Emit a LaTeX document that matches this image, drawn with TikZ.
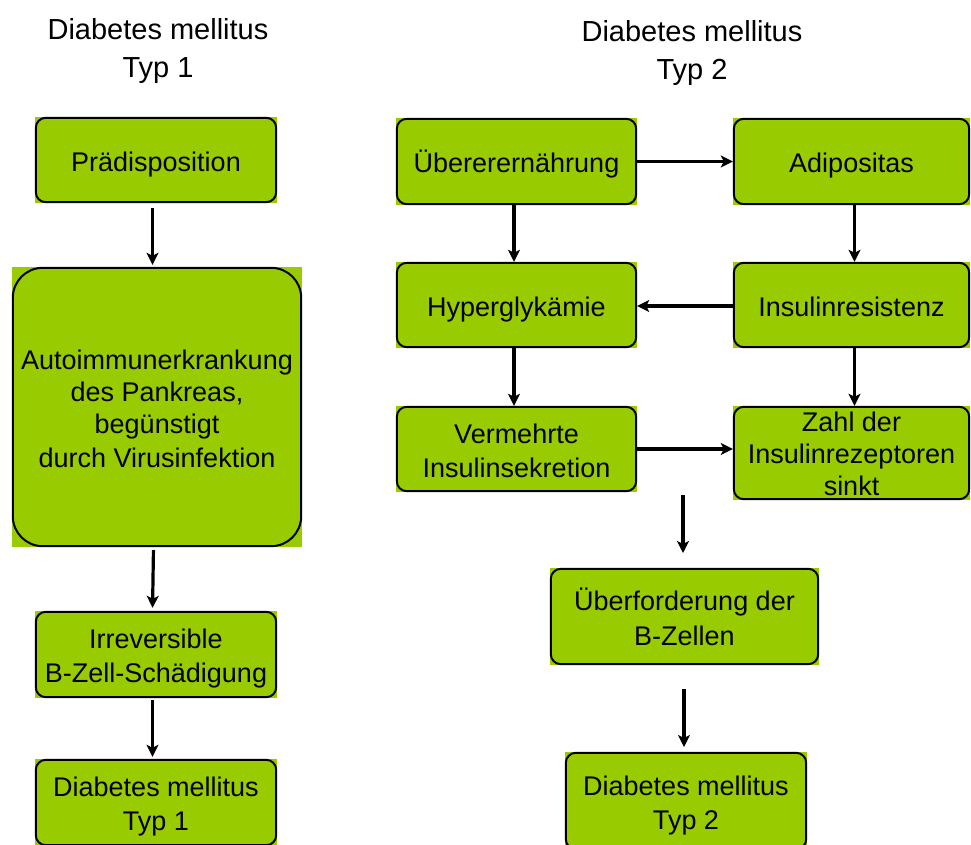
\documentclass[tikz,border=0pt]{standalone}
\usepackage{fontspec}
\setmainfont{Liberation Sans}
\usetikzlibrary{arrows.meta}
\definecolor{boxgreen}{RGB}{153,204,0}
\newcommand\boxfont{\fontsize{27pt}{32pt}\selectfont}
\newcommand\titlefont{\fontsize{29pt}{38pt}\selectfont}
\newcommand\bs{\rule[-5pt]{0pt}{33pt}}
\newcommand\zs{\rule{0pt}{22pt}}
\newcommand\ts{\rule[-5.5pt]{0pt}{28pt}}
\tikzset{
  gbox/.style={rectangle, fill=boxgreen, draw=none, inner sep=0pt, align=center,
    font=\boxfont},
  ttl/.style={align=center, inner sep=0pt, font=\titlefont},
  bordr/.style={draw=black, line width=2pt, rounded corners=10pt},
  bigbordr/.style={draw=black, line width=2pt, rounded corners=30pt},
  arr/.style={line width=3.2pt, -{Stealth[length=12pt,width=12pt,inset=3pt]}},
}
\begin{document}
\begin{tikzpicture}[x=1pt,y=-1pt]
\useasboundingbox (0,0) rectangle (971,845);
% titles
\node[ttl] (t1) at (158,50.75) {\ts Diabetes mellitus\\Typ 1\ts};
\node[ttl] (t2) at (692,52.75) {\ts Diabetes mellitus\\Typ 2\ts};
% left column
\node[gbox, minimum width=242pt, minimum height=86pt] (praed) at (156,160) {\bs Prädisposition\bs};
\node[gbox, minimum width=290pt, minimum height=280pt] (auto) at (157,407) {\bs Autoimmunerkrankung\\des Pankreas,\\begünstigt\\durch Virusinfektion\bs};
\node[gbox, minimum width=242pt, minimum height=87pt] (irrev) at (156,654.5) {\bs Irreversible\\B-Zell-Schädigung\bs};
\node[gbox, minimum width=242pt, minimum height=87pt] (dm1) at (156,802.5) {\bs Diabetes mellitus\\Typ 1\bs};
% right column
\node[gbox, minimum width=241pt, minimum height=87pt] (ueber) at (516.5,161.5) {\bs Übererernährung\bs};
\node[gbox, minimum width=237pt, minimum height=87pt] (adip) at (851.5,161.5) {\bs Adipositas\bs};
\node[gbox, minimum width=241pt, minimum height=86pt] (hyper) at (516.5,305) {\bs Hyperglykämie\bs};
\node[gbox, minimum width=237pt, minimum height=86pt] (insres) at (851.5,305) {\bs Insulinresistenz\bs};
\node[gbox, minimum width=241pt, minimum height=86pt] (verm) at (516.5,449) {\bs Vermehrte\\Insulinsekretion\bs};
\node[gbox, minimum width=237pt, minimum height=94pt] (zahl) at (851.5,453) {\zs Zahl der\\Insulinrezeptoren\\sinkt};
\node[gbox, minimum width=269pt, minimum height=97pt] (ueberf) at (684.5,616.5) {\bs Überforderung der\\B-Zellen\bs};
\node[gbox, minimum width=242pt, minimum height=98pt] (dm2) at (686,801) {\bs Diabetes mellitus\\Typ 2\bs};
% borders
\foreach \n in {praed,irrev,dm1,ueber,adip,hyper,insres,verm,zahl,ueberf,dm2}
  \draw[bordr] ([shift={(1pt,-1pt)}]\n.north west) rectangle ([shift={(-1pt,1pt)}]\n.south east);
\draw[bigbordr] ([shift={(1pt,-1pt)}]auto.north west) rectangle ([shift={(-1pt,1pt)}]auto.south east);
% left arrows
\draw[arr, shorten <=5pt, shorten >=2pt] ([xshift=-3.5pt]praed.south) -- ([xshift=-4.5pt]auto.north);
\draw[arr, shorten <=3pt, shorten >=3pt] ([xshift=-3.5pt]auto.south) -- ([xshift=-3.5pt]irrev.north);
\draw[arr, shorten <=2pt, shorten >=2pt] ([xshift=-3.5pt]irrev.south) -- ([xshift=-3.5pt]dm1.north);
% right arrows
\draw[arr] (ueber.east) -- (adip.west);
\draw[arr] ([yshift=-1pt]insres.west) -- ([yshift=-1pt]hyper.east);
\draw[arr] (verm.east) -- (verm.east -| zahl.west);
\draw[arr] ([xshift=-2.5pt]ueber.south) -- ([xshift=-2.5pt]hyper.north);
\draw[arr] ([xshift=3pt]adip.south) -- ([xshift=3pt]insres.north);
\draw[arr] ([xshift=-2.5pt]hyper.south) -- ([xshift=-2.5pt]verm.north);
\draw[arr] ([xshift=3pt]insres.south) -- ([xshift=3pt]zahl.north);
\coordinate (f1s) at (683,495);
\coordinate (f1e) at (683,553);
\coordinate (f2s) at (684,689);
\coordinate (f2e) at (684,747);
\draw[arr] (f1s) -- (f1e);
\draw[arr] (f2s) -- (f2e);
\end{tikzpicture}
\end{document}
